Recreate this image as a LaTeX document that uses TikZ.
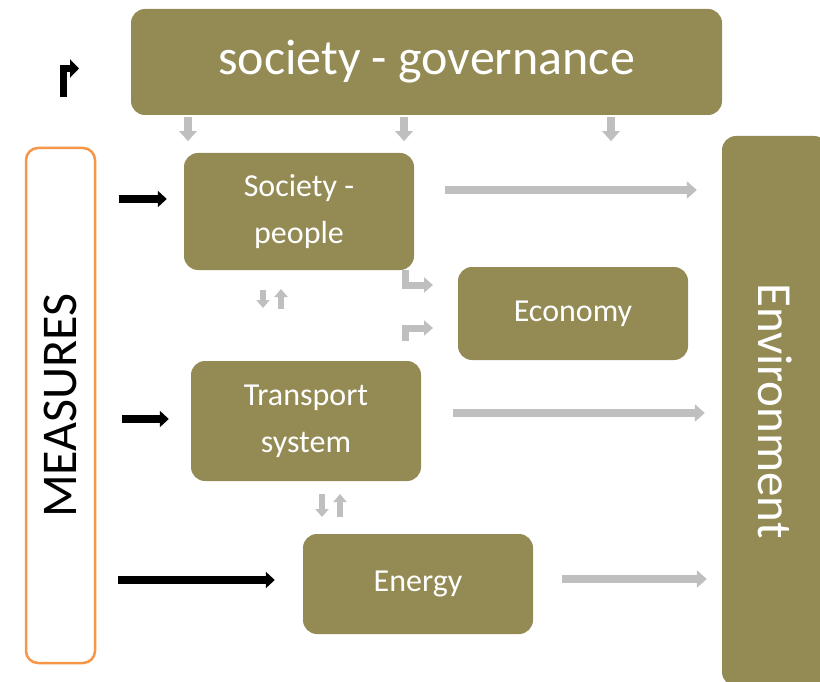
\documentclass[tikz,border=0pt]{standalone}
\usepackage{fontspec}
\setmainfont{Carlito}
\usetikzlibrary{arrows.meta}
\definecolor{boxolive}{HTML}{948A54}
\definecolor{arrowgray}{HTML}{BFBFBF}
\definecolor{measorange}{HTML}{F79646}

\begin{document}
\begin{tikzpicture}[
  x=1pt, y=-1pt,
  box/.style={fill=boxolive, rounded corners=14pt, text=white, align=center,
    inner sep=0pt, font=\fontsize{32}{47}\selectfont},
  grayarr/.style={draw=arrowgray, line width=8pt, -{Triangle[width=17pt,length=10pt]}},
  smallarr/.style={draw=arrowgray, line width=6pt, -{Triangle[width=13pt,length=8pt]}},
  elbowarr/.style={draw=arrowgray, line width=7pt, -{Triangle[width=15pt,length=9pt]}},
  blackarr/.style={draw=black, line width=8pt, -{Triangle[width=16pt,length=9pt]}}]

  \useasboundingbox (0,0) rectangle (820,682);
  \clip (0,0) rectangle (820,682);

  % boxes
  \node[box, minimum width=591pt, minimum height=106pt, font=\fontsize{50}{60}\selectfont]
    (gov) at (426.5,62) {society - governance};
  \node[box, minimum width=230pt, minimum height=117pt] (soc) at (299,211.5) {Society -\\people};
  \node[box, minimum width=230pt, minimum height=93pt] (eco) at (573,313.5) {Economy};
  \node[box, minimum width=230pt, minimum height=120pt] (trans) at (306,421) {Transport\\system};
  \node[box, minimum width=230pt, minimum height=100pt] (energy) at (418,584) {Energy};
  \node[box, rotate=-90, minimum width=550pt, minimum height=106pt, font=\fontsize{49}{59}\selectfont]
    (env) at (775,411) {Environment};
  \node[draw=measorange, line width=2.5pt, fill=white, rounded corners=12pt, rotate=90,
    minimum width=515pt, minimum height=69pt, inner sep=0pt, font=\fontsize{50}{60}\selectfont]
    (meas) at (60.5,405.5) {MEASURES};

  % governance down to the layers
  \foreach \x in {188,404,611}
    \draw[grayarr] (gov.south -| \x,0) ++(0,2) -- ++(0,24);

  % measures into the layers (meas and env are turned, so their sides are south)
  \draw[blackarr, shorten <=23pt, shorten >=17pt] (meas.south |- 0,199) -- (soc.west |- 0,199);
  \draw[blackarr, shorten <=26pt, shorten >=22pt] (meas.south |- 0,419) -- (trans.west |- 0,419);
  \draw[blackarr, shorten <=22pt, shorten >=28pt] (meas.south |- 0,580) -- (energy.west |- 0,580);

  % layers to environment
  \draw[grayarr, shorten <=31pt, shorten >=25pt] (soc.east |- 0,190) -- (env.south |- 0,190);
  \draw[grayarr, shorten <=32pt, shorten >=17pt] (trans.east |- 0,413) -- (env.south |- 0,413);
  \draw[grayarr, shorten <=29pt, shorten >=15pt] (energy.east |- 0,579) -- (env.south |- 0,579);

  % between layers
  \draw[smallarr] (263,290) -- (263,308);
  \draw[smallarr] (281,309) -- (281,289);
  \draw[smallarr] (322,494) -- (322,517);
  \draw[smallarr] (340,517) -- (340,494);

  % society and transport to economy
  \draw[elbowarr] (405,270) -- (405,285) -- (433,285);
  \draw[elbowarr] (405,341) -- (405,328) -- (433,328);

  \draw[line width=7pt, -{Triangle[width=18pt,length=9pt]}] (63.5,97) -- (63.5,68.5) -- (79,68.5);
\end{tikzpicture}
\end{document}
